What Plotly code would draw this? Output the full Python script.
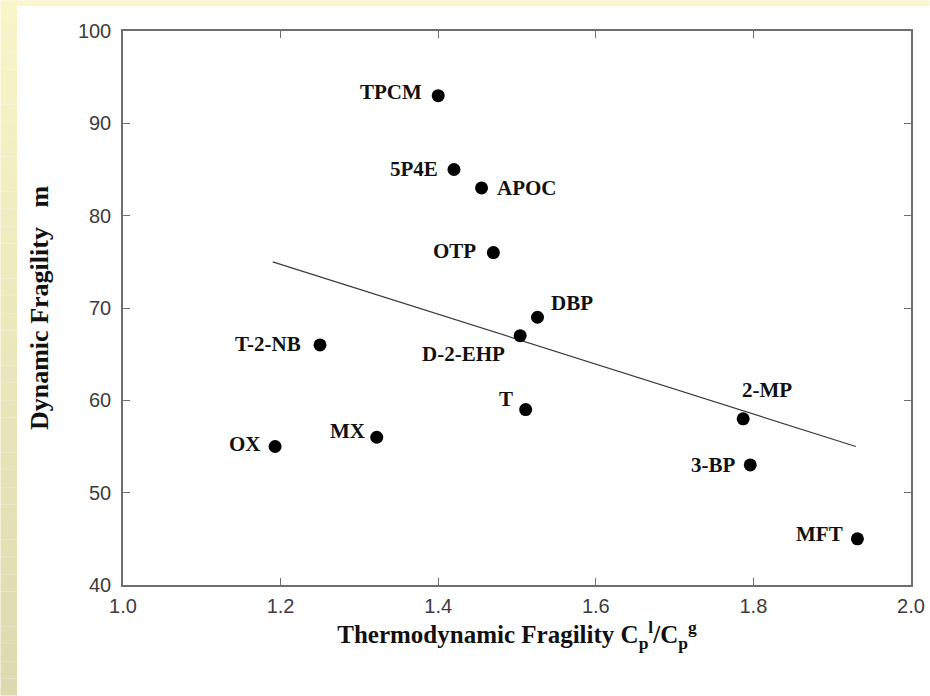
import plotly.graph_objects as go

# Thermodynamic vs dynamic fragility of glass-forming liquids
liquids = ["TPCM", "5P4E", "APOC", "OTP", "DBP", "D-2-EHP", "T-2-NB",
           "T", "2-MP", "3-BP", "MX", "OX", "MFT"]
thermo_fragility = [1.40, 1.42, 1.455, 1.47, 1.526, 1.504, 1.25,
                    1.511, 1.787, 1.796, 1.322, 1.193, 1.932]
dynamic_fragility = [93, 85, 83, 76, 69, 67, 66, 59, 58, 53, 56, 55, 45]

# least-squares trend line end points
trend_x = [1.19, 1.93]
trend_y = [75, 55]

x_ticks = [1.0, 1.2, 1.4, 1.6, 1.8, 2.0]
y_ticks = [40, 50, 60, 70, 80, 90, 100]

# label placement around each marker: (xanchor, xshift px, yshift px)
label_place = {
    "TPCM": ("right", -14, 4),
    "5P4E": ("right", -14, 1),
    "APOC": ("left", 13, 0),
    "OTP": ("right", -15, 2),
    "DBP": ("left", 12, 14),
    "D-2-EHP": ("right", -13, -18),
    "T-2-NB": ("right", -17, 1),
    "T": ("right", -11, 11),
    "2-MP": ("left", -3, 29),
    "3-BP": ("right", -12, 0),
    "MX": ("right", -10, 6),
    "OX": ("right", -12, 3),
    "MFT": ("right", -12, 5),
}

W, H = 930, 696
L, R, T, B = 123, 19, 31, 111
pw, ph = W - L - R, H - T - B

fig = go.Figure()

fig.add_trace(go.Scatter(
    x=trend_x, y=trend_y, mode="lines",
    line=dict(color="#3a3a3a", width=1.2),
    hoverinfo="skip", showlegend=False,
))

fig.add_trace(go.Scatter(
    x=thermo_fragility, y=dynamic_fragility, mode="markers",
    marker=dict(size=13, color="black"),
    text=liquids, showlegend=False,
))

serif = "Liberation Serif, Times New Roman, serif"
annotations = []
for name, xv, yv in zip(liquids, thermo_fragility, dynamic_fragility):
    anchor, dx, dy = label_place[name]
    annotations.append(dict(
        x=xv, y=yv, xref="x", yref="y", text="<b>%s</b>" % name,
        showarrow=False, xanchor=anchor, yanchor="middle",
        xshift=dx, yshift=dy,
        font=dict(family=serif, size=21, color="#111111"),
    ))


# pale yellow frame round the white page (kept just inside the figure edge)
def px_x(p):
    return (p - L) / pw


def px_y(p):
    return (H - B - p) / ph


shapes = [dict(type="rect", xref="paper", yref="paper",
               x0=px_x(0.5), x1=px_x(W - 0.5), y0=px_y(6), y1=px_y(0.5),
               fillcolor="#f9f6c9", line=dict(width=0), layer="below")]
n_bands = 40
top_rgb = (248, 245, 200)
bot_rgb = (221, 218, 175)
for i in range(n_bands):
    f = i / (n_bands - 1)
    c = tuple(round(a + (b - a) * f) for a, b in zip(top_rgb, bot_rgb))
    y0p = max(0.5, H * i / n_bands)
    y1p = min(H - 0.5, H * (i + 1) / n_bands)
    shapes.append(dict(type="rect", xref="paper", yref="paper",
                       x0=px_x(0.5), x1=px_x(17), y0=px_y(y1p), y1=px_y(y0p),
                       fillcolor="rgb(%d,%d,%d)" % c,
                       line=dict(width=0), layer="below"))

axis_common = dict(
    showgrid=False, zeroline=False, showline=True, mirror="ticks",
    automargin=False,
    linecolor="#6e6e6e", linewidth=1.5, ticks="inside", ticklen=7,
    tickcolor="#6e6e6e", tickwidth=1.2,
    tickfont=dict(family="Liberation Sans, Arial, sans-serif", size=20,
                  color="#3c3c3c"),
)

fig.update_layout(
    width=W, height=H,
    margin=dict(l=L, r=R, t=T, b=B),
    paper_bgcolor="white", plot_bgcolor="white",
    xaxis=dict(range=[1.0, 2.0], tickvals=x_ticks,
               ticktext=["%.1f" % v for v in x_ticks],
               ticklabelstandoff=2,
               title=dict(text="<b>Thermodynamic Fragility C<sub>p</sub><sup>l</sup>/C<sub>p</sub><sup>g</sup></b>",
                          font=dict(family=serif, size=25, color="#111111"),
                          standoff=8),
               **axis_common),
    yaxis=dict(range=[40, 100], tickvals=y_ticks,
               ticklabelstandoff=6,
               title=dict(text="<b>Dynamic Fragility   m</b>",
                          font=dict(family=serif, size=26, color="#111111"),
                          standoff=22),
               **axis_common),
    annotations=annotations,
    shapes=shapes,
)

fig.write_html("out.html")
